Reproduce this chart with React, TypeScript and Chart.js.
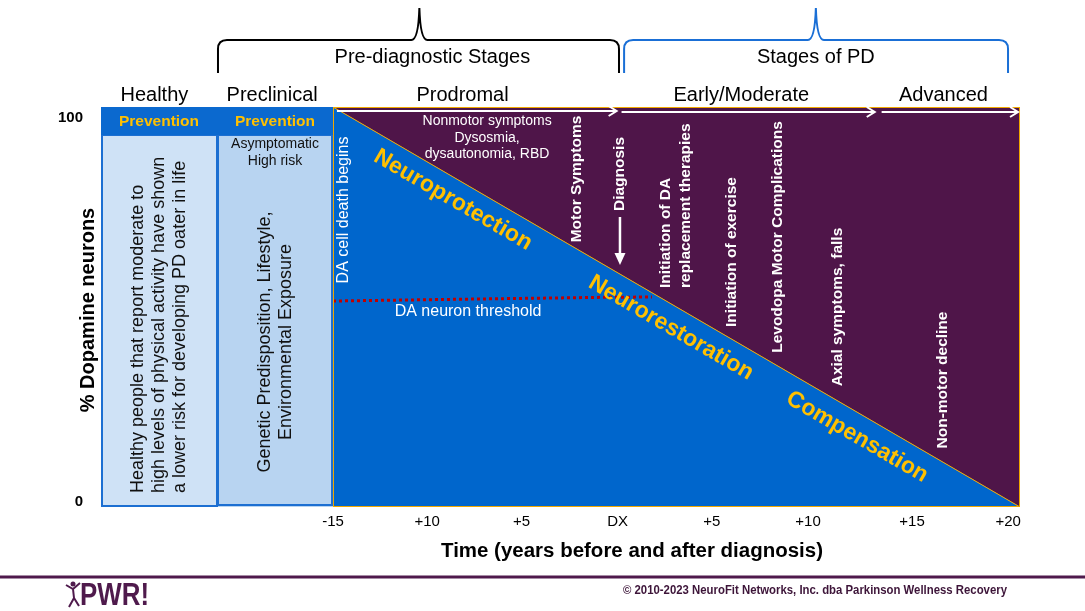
import React, { useEffect, useRef } from 'react';
import { Chart, registerables } from 'chart.js';

Chart.register(...registerables);

// ---------- data ----------
// x axis: years relative to diagnosis; left of -15 are the Healthy / Preclinical columns
const tickLabels = ['-15', '+10', '+5', 'DX', '+5', '+10', '+15', '+20'];
const tickYears = [-15, -10.2, -5.4, -0.5, 4.3, 9.2, 14.5, 19.4];
const yTicks = [0, 100];
const yTickLabels = ['0', '100'];

const columnEdges = [-26.82, -20.91, -15];
const columnHeaders = ['Prevention', 'Prevention'];
const preventionFloor = 93;

const declineYears = [-15, 20];
const declineNeurons = [100, 0];

const thresholdYears = [-15, -1.6, 1.25];
const thresholdNeurons = [51.5, 52.4, 52.5];

const phaseLabels = ['Healthy', 'Preclinical', 'Prodromal', 'Early/Moderate', 'Advanced'];
const phaseCenters = [-24.1, -18.1, -8.4, 5.8, 16.1];
const phaseArrowFrom = [-14.8, -0.3, 12.95];
const phaseArrowTo = [-0.55, 12.6, 19.9];

const bracketLabels = ['Pre-diagnostic Stages', 'Stages of PD'];
const bracketFrom = [-20.86, -0.17];
const bracketTo = [-0.43, 19.39];
const bracketTip = [-10.6, 9.6];

const eventLabels = ['Motor Symptoms', 'Diagnosis', 'Initiation of exercise', 'Levodopa Motor Complications', 'Axial symptoms, falls', 'Non-motor decline'];
const eventYears = [-2.57, -0.38, 5.33, 7.67, 10.73, 16.08];
const eventLevels = [82, 83.25, 63.75, 67.5, 50, 31.75];

const therapyLines = ['Initiation of DA', 'replacement therapies'];
const therapyYear = 2.47;
const therapyStartLevel = 54.75;

const zoneLabels = ['Neuroprotection', 'Neurorestoration', 'Compensation'];
const zoneYears = [-8.89, 2.22, 11.7];
const zoneLevels = [76.75, 44.75, 17.5];

const nonmotorLines = ['Nonmotor symptoms', 'Dysosmia,', 'dysautonomia, RBD'];
const nonmotorYear = -7.15;
const nonmotorLevels = [96.5, 92.3, 88.3];

const healthyLines = ['Healthy people that report moderate to', 'high levels of physical activity have shown', 'a lower risk for developing PD oater in life'];
const geneticLines = ['Genetic Predisposition, Lifestyle,', 'Environmental Exposure'];
const riskLines = ['Asymptomatic', 'High risk'];

// ---------- styles ----------
const FONT = "'Liberation Sans', Arial, Helvetica, sans-serif";
const PURPLE = '#4f1549';
const BLUE = '#0066cc';
const GOLD = '#ffc000';
const EDGE = '#f0a800';

type TOpts = { size: number; bold?: boolean; color: string; align?: CanvasTextAlign; rot?: number; width?: number };
function drawText(ctx: CanvasRenderingContext2D, s: string, x: number, y: number, o: TOpts) {
  ctx.save();
  ctx.translate(x, y);
  if (o.rot) ctx.rotate(o.rot);
  ctx.font = `${o.bold ? 'bold ' : ''}${o.size}px ${FONT}`;
  ctx.fillStyle = o.color;
  ctx.textAlign = o.align || 'center';
  ctx.textBaseline = 'middle';
  if (o.width) {
    const w = ctx.measureText(s).width;
    ctx.scale(o.width / w, 1);
  }
  ctx.fillText(s, 0, 0);
  ctx.restore();
}

function chevronArrow(ctx: CanvasRenderingContext2D, x1: number, x2: number, y: number) {
  ctx.beginPath();
  ctx.moveTo(x1, y);
  ctx.lineTo(x2, y);
  ctx.moveTo(x2 - 8, y - 5);
  ctx.lineTo(x2, y);
  ctx.lineTo(x2 - 8, y + 5);
  ctx.stroke();
}

function brace(ctx: CanvasRenderingContext2D, x1: number, x2: number, xm: number, color: string) {
  const top = 40, bot = 73, tip = 8;
  ctx.save();
  ctx.strokeStyle = color;
  ctx.lineWidth = 2;
  ctx.beginPath();
  ctx.moveTo(x1, bot);
  ctx.lineTo(x1, top + 9);
  ctx.quadraticCurveTo(x1, top, x1 + 9, top);
  ctx.lineTo(xm - 8, top);
  ctx.quadraticCurveTo(xm - 1, top, xm, tip);
  ctx.quadraticCurveTo(xm + 1, top, xm + 8, top);
  ctx.lineTo(x2 - 9, top);
  ctx.quadraticCurveTo(x2, top, x2, top + 9);
  ctx.lineTo(x2, bot);
  ctx.stroke();
  ctx.restore();
}

const diagram = {
  id: 'diagram',
  beforeDatasetsDraw(chart: any) {
    const { ctx } = chart;
    const X = (v: number) => chart.scales.x.getPixelForValue(v);
    const Y = (v: number) => chart.scales.y.getPixelForValue(v);
    const [c0, c1, c2] = columnEdges;
    const top = Y(100), band = Y(preventionFloor), bottom = Y(0);
    ctx.save();
    ctx.fillStyle = '#cfe2f6';
    ctx.fillRect(X(c0), band, X(c1) - X(c0), bottom - band);
    ctx.fillStyle = '#b8d4f1';
    ctx.fillRect(X(c1), band, X(c2) - X(c1), bottom - band);
    ctx.strokeStyle = '#1c6fd2';
    ctx.lineWidth = 2;
    ctx.strokeRect(X(c0) + 1, band, X(c1) - X(c0) - 1, bottom - band - 1);
    ctx.strokeRect(X(c1) + 1, band, X(c2) - X(c1) - 2, bottom - band - 2);
    ctx.fillStyle = '#0b69cf';
    ctx.fillRect(X(c0), top, X(c2) - X(c0), band - top);
    ctx.restore();
  },
  afterDatasetsDraw(chart: any) {
    const { ctx } = chart;
    const X = (v: number) => chart.scales.x.getPixelForValue(v);
    const Y = (v: number) => chart.scales.y.getPixelForValue(v);
    const [c0, c1, c2] = columnEdges;
    const up = -Math.PI / 2;

    // plot frame
    ctx.save();
    ctx.strokeStyle = EDGE;
    ctx.lineWidth = 1;
    ctx.strokeRect(X(declineYears[0]) + 0.5, Y(100) + 0.5, X(declineYears[1]) - X(declineYears[0]) - 1, Y(0) - Y(100) - 1);
    ctx.restore();

    // y tick labels (text boxes sit inside the 0..100 range)
    yTicks.forEach((v, i) => {
      drawText(ctx, yTickLabels[i], chart.chartArea.left - 18, Y(v) + (v === 100 ? 11 : -5), { size: 15, bold: true, color: '#000', align: 'right' });
    });

    // column texts
    columnHeaders.forEach((h, i) => {
      const cx = (X(columnEdges[i]) + X(columnEdges[i + 1])) / 2;
      drawText(ctx, h, cx, (Y(100) + Y(preventionFloor)) / 2 + 1, { size: 15.5, bold: true, color: GOLD });
    });
    const hx = (X(c0) + X(c1)) / 2;
    healthyLines.forEach((s, i) => {
      drawText(ctx, s, hx - 21 + i * 21, Y(3.5), { size: 18, color: '#111', align: 'left', rot: up });
    });
    const gx = (X(c1) + X(c2)) / 2;
    riskLines.forEach((s, i) => {
      drawText(ctx, s, gx, Y(90.75 - i * 4.25), { size: 14, color: '#111' });
    });
    geneticLines.forEach((s, i) => {
      drawText(ctx, s, gx - 10 + i * 21, Y(41.25), { size: 18, color: '#111', rot: up });
    });

    // stage arrows along the top
    ctx.save();
    ctx.strokeStyle = '#fff';
    ctx.lineWidth = 2;
    phaseArrowFrom.forEach((f, i) => chevronArrow(ctx, X(f), X(phaseArrowTo[i]), Y(99) + (i === 0 ? 0 : 1)));
    ctx.restore();

    // DA cell death begins
    drawText(ctx, 'DA cell death begins', X(-14.44), Y(74.25), { size: 16, color: '#fff', rot: up });

    // nonmotor symptoms
    nonmotorLines.forEach((s, i) => drawText(ctx, s, X(nonmotorYear), Y(nonmotorLevels[i]), { size: 14, color: '#fff' }));

    // threshold label
    drawText(ctx, 'DA neuron threshold', X(-8.12), Y(48.75), { size: 16, color: '#fff' });

    // events
    eventLabels.forEach((s, i) => {
      drawText(ctx, s, X(eventYears[i]), Y(eventLevels[i]), { size: 15.5, bold: true, color: '#fff', rot: up });
    });
    therapyLines.forEach((s, i) => {
      drawText(ctx, s, X(therapyYear) - 10 + i * 20, Y(therapyStartLevel), { size: 15.5, bold: true, color: '#fff', align: 'left', rot: up });
    });

    // diagnosis arrow
    const dx = X(eventYears[1]);
    ctx.save();
    ctx.strokeStyle = '#fff';
    ctx.fillStyle = '#fff';
    ctx.lineWidth = 2.5;
    ctx.beginPath();
    ctx.moveTo(dx, Y(72.5));
    ctx.lineTo(dx, Y(63));
    ctx.stroke();
    ctx.beginPath();
    ctx.moveTo(dx - 5.5, Y(63.5));
    ctx.lineTo(dx + 5.5, Y(63.5));
    ctx.lineTo(dx, Y(60.5));
    ctx.closePath();
    ctx.fill();
    ctx.restore();

    // zones along the decline line
    const ang = Math.atan2(Y(declineNeurons[1]) - Y(declineNeurons[0]), X(declineYears[1]) - X(declineYears[0]));
    zoneLabels.forEach((s, i) => {
      drawText(ctx, s, X(zoneYears[i]), Y(zoneLevels[i]), { size: 23, bold: true, color: GOLD, rot: ang });
    });
  },
  afterDraw(chart: any) {
    const { ctx } = chart;
    const X = (v: number) => chart.scales.x.getPixelForValue(v);

    // phase labels
    phaseLabels.forEach((s, i) => drawText(ctx, s, X(phaseCenters[i]), 95, { size: 20, color: '#000' }));

    // braces
    const colors = ['#000', '#1a6fd6'];
    bracketLabels.forEach((s, i) => {
      brace(ctx, X(bracketFrom[i]), X(bracketTo[i]), X(bracketTip[i]), colors[i]);
      drawText(ctx, s, X(bracketTip[i]) + (i === 0 ? 13 : 0), 57, { size: 20, color: '#000' });
    });

    // axis titles
    drawText(ctx, '% Dopamine neurons', 88, 310, { size: 20, bold: true, color: '#000', rot: -Math.PI / 2 });
    drawText(ctx, 'Time (years before and after diagnosis)', 632, 551, { size: 20, bold: true, color: '#000', width: 382 });

    // footer
    ctx.save();
    ctx.strokeStyle = '#4f1a4c';
    ctx.lineWidth = 3;
    ctx.beginPath();
    ctx.moveTo(0, 577);
    ctx.lineTo(1085, 577);
    ctx.stroke();
    // small figure of the logo
    ctx.strokeStyle = '#4f1a4c';
    ctx.fillStyle = '#4f1a4c';
    ctx.lineWidth = 2;
    ctx.beginPath();
    ctx.arc(73, 584, 2.5, 0, Math.PI * 2);
    ctx.fill();
    ctx.beginPath();
    ctx.moveTo(66, 585); ctx.lineTo(73, 589); ctx.lineTo(80, 583);
    ctx.moveTo(73, 589); ctx.lineTo(74, 598);
    ctx.moveTo(74, 598); ctx.lineTo(69, 607);
    ctx.moveTo(74, 598); ctx.lineTo(79, 606);
    ctx.stroke();
    ctx.restore();
    drawText(ctx, 'PWR!', 80, 596, { size: 31, bold: true, color: '#4f1a4c', align: 'left', width: 69 });
    drawText(ctx, '© 2010-2023 NeuroFit Networks, Inc. dba Parkinson Wellness Recovery', 1007, 591, { size: 12, bold: true, color: '#3d1539', align: 'right', width: 384 });
  },
};

export default function App() {
  const ref = useRef<HTMLCanvasElement>(null);
  useEffect(() => {
    const pts = (xs: number[], ys: number[]) => xs.map((x, i) => ({ x, y: ys[i] }));
    const chart = new Chart(ref.current as HTMLCanvasElement, {
      type: 'line',
      data: {
        datasets: [
          {
            label: 'DA neuron threshold',
            data: pts(thresholdYears, thresholdNeurons),
            borderColor: '#c00000',
            borderWidth: 3,
            borderDash: [3, 3],
            pointRadius: 0,
            fill: false,
            tension: 0,
          },
          {
            label: 'Dopamine neurons',
            data: pts(declineYears, declineNeurons),
            borderColor: EDGE,
            borderWidth: 1,
            backgroundColor: BLUE,
            pointRadius: 0,
            fill: 'start',
          },
          {
            label: 'Lost neurons',
            data: pts(declineYears, declineNeurons),
            borderWidth: 0,
            borderColor: 'rgba(0,0,0,0)',
            backgroundColor: PURPLE,
            pointRadius: 0,
            fill: 'end',
          },
        ],
      },
      options: {
        animation: false,
        responsive: false,
        maintainAspectRatio: false,
        layout: { padding: { left: 0, top: 107, right: 65, bottom: 0 } },
        plugins: { legend: { display: false }, tooltip: { enabled: false } },
        scales: {
          x: {
            type: 'linear',
            min: columnEdges[0],
            max: declineYears[1],
            grid: { display: false, drawTicks: false },
            border: { display: false },
            afterBuildTicks: (s: any) => { s.ticks = tickYears.map((v) => ({ value: v })); },
            afterFit: (s: any) => { s.height = 104; },
            ticks: {
              autoSkip: false,
              maxRotation: 0,
              minRotation: 0,
              padding: 6,
              color: '#000',
              font: { family: FONT, size: 15 },
              callback: (_v: any, i: number) => tickLabels[i],
            },
          },
          y: {
            type: 'linear',
            min: 0,
            max: 100,
            grid: { display: false, drawTicks: false },
            border: { display: false },
            afterBuildTicks: (s: any) => { s.ticks = yTicks.map((v) => ({ value: v })); },
            afterFit: (s: any) => { s.width = 101; },
            ticks: { display: false },
          },
        },
      },
      plugins: [diagram],
    } as any);
    return () => chart.destroy();
  }, []);
  return (
    <div style={{ position: 'fixed', left: 0, top: 0, width: 1085, height: 611, background: '#fff' }}>
      <canvas ref={ref} width={1085} height={611} style={{ display: 'block' }} />
    </div>
  );
}
